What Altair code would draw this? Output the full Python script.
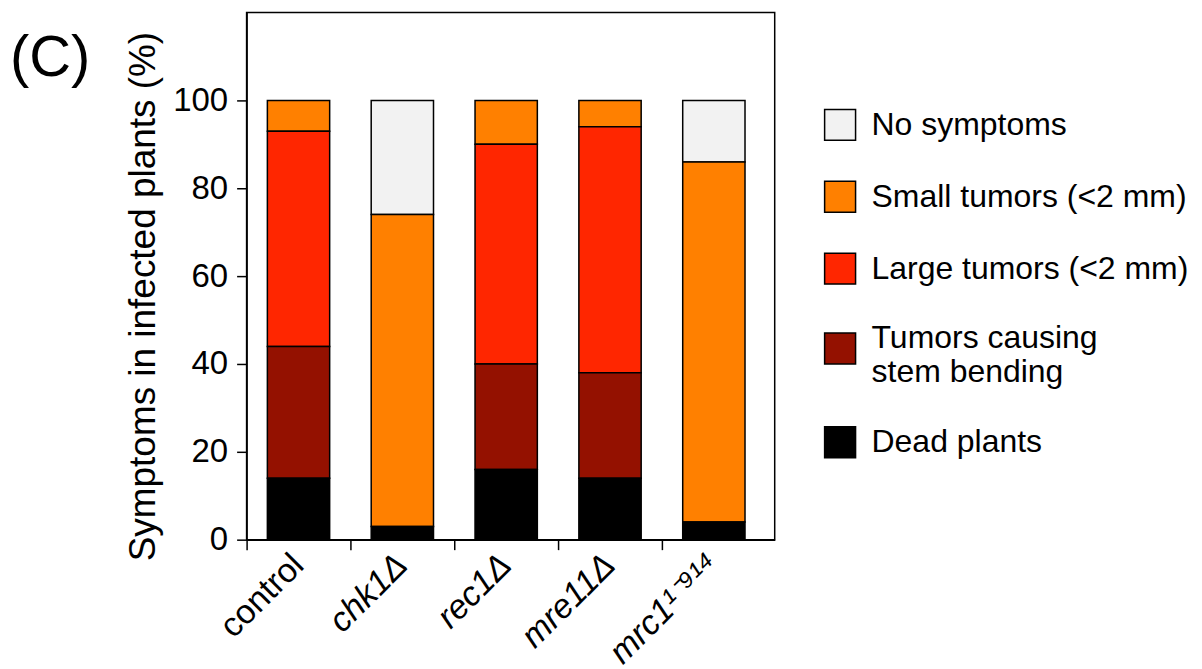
import altair as alt
import pandas as pd

strains = ["control", "chk1Δ", "rec1Δ", "mre11Δ", "mrc1¹⁻⁹¹⁴"]
symptoms = ["No symptoms", "Small tumors (<2 mm)", "Large tumors (<2 mm)",
            "Tumors causing stem bending", "Dead plants"]
colors = ["#f2f2f2", "#ff8000", "#ff2600", "#941100", "#000000"]

# segment heights (%) per strain, in the order of `strains`
no_symptoms = [0, 26, 0, 0, 14]
small_tumors = [7, 71, 10, 6, 82]
large_tumors = [49, 0, 50, 56, 0]
stem_bending = [30, 0, 24, 24, 0]
dead_plants = [14, 3, 16, 14, 4]
y_ticks = [0, 20, 40, 60, 80, 100]

series = [no_symptoms, small_tumors, large_tumors, stem_bending, dead_plants]
rows = []
for k, (name, vals) in enumerate(zip(symptoms, series)):
    for s, v in zip(strains, vals):
        if v > 0:
            rows.append({"strain": s, "symptom": name, "value": v, "stack": len(symptoms) - k})
df = pd.DataFrame(rows)

FONT = "Liberation Sans"

bars = alt.Chart(df).mark_bar(
    stroke="black", strokeWidth=1.5, width=alt.RelativeBandSize(0.6)
).encode(
    x=alt.X("strain:N", sort=strains,
            scale=alt.Scale(paddingInner=0, paddingOuter=0.043, align=0),
            axis=alt.Axis(title=None, labelAngle=-45, labelAlign="right", labelBaseline="middle",
                          labelFontSize=34, labelFont=FONT, labelColor="black",
                          labelFontStyle={"condition": {"test": "datum.value == 'control'", "value": "normal"},
                                          "value": "italic"},
                          bandPosition=0, tickSize=10, tickColor="black", tickWidth=1.5,
                          domainColor="black", domainWidth=1.5, labelPadding=10)),
    y=alt.Y("value:Q", stack="zero",
            scale=alt.Scale(domain=[0, 120], nice=False),
            axis=alt.Axis(values=y_ticks, title="Symptoms in infected plants (%)",
                          titleFontSize=37, titleFont=FONT, titleFontWeight="normal",
                          titleColor="black", titlePadding=10, titleY=284,
                          labelFontSize=33, labelFont=FONT, labelColor="black",
                          tickSize=10, tickColor="black", tickWidth=1.5,
                          domainColor="black", domainWidth=1.5, labelPadding=9, grid=False)),
    color=alt.Color("symptom:N",
                    scale=alt.Scale(domain=symptoms, range=colors),
                    legend=alt.Legend(
                        orient="none", legendX=578, legendY=96, title=None,
                        symbolType="square", symbolSize=961, symbolStrokeColor="black",
                        symbolStrokeWidth=1.5, labelFontSize=32, labelFont=FONT,
                        labelColor="black", labelOffset=15, rowPadding=35, labelLimit=600,
                        labelBaseline=alt.ExprRef(
                            "datum.value == 'Tumors causing stem bending' ? 'alphabetic' : 'middle'"),
                        padding=0,
                        labelExpr="datum.label == 'Tumors causing stem bending' ? ['Tumors causing', 'stem bending'] : datum.label",
                    )),
    order=alt.Order("stack:Q", sort="ascending"),
)

panel = alt.Chart(pd.DataFrame({"panel": ["(C)"]})).mark_text(
    fontSize=58, align="left", baseline="alphabetic", font=FONT, color="black"
).encode(text="panel:N", x=alt.value(-237), y=alt.value(64))

chart = alt.layer(bars, panel).properties(
    width=529, height=528,
    padding={"left": 2, "top": 4, "right": 5, "bottom": 5},
).configure_view(stroke="black", strokeWidth=1.5)

chart.save("out.html", embed_options={"renderer": "svg", "actions": False})
